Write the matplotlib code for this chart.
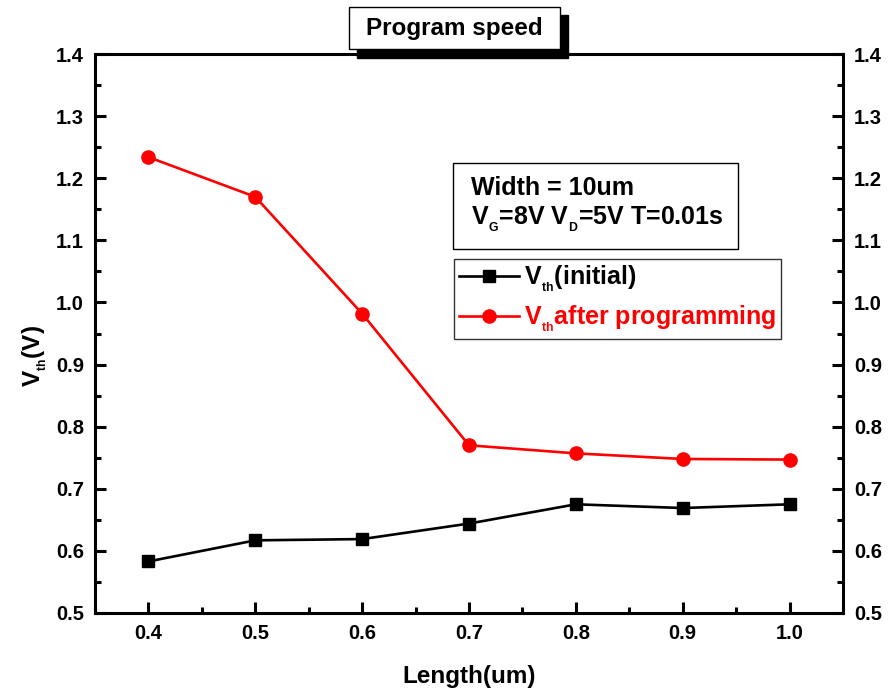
import matplotlib
matplotlib.use("Agg")
import matplotlib.pyplot as plt
import matplotlib.patches as ptc
from matplotlib.ticker import MultipleLocator, FormatStrFormatter

plt.rcParams['font.family'] = 'Liberation Sans'
plt.rcParams['font.weight'] = 'bold'
plt.rcParams['axes.labelweight'] = 'bold'
plt.rcParams['mathtext.fontset'] = 'custom'
plt.rcParams['mathtext.rm'] = 'Liberation Sans:bold'
plt.rcParams['mathtext.it'] = 'Liberation Sans:bold'
plt.rcParams['mathtext.bf'] = 'Liberation Sans:bold'

# data
length = [0.4, 0.5, 0.6, 0.7, 0.8, 0.9, 1.0]
vth_initial = [0.583, 0.617, 0.619, 0.644, 0.675, 0.669, 0.675]
vth_programmed = [1.234, 1.170, 0.982, 0.770, 0.757, 0.748, 0.747]

label_initial = r'V$_{_{\mathregular{th}}}$(initial)'
label_programmed = r'V$_{_{\mathregular{th}}}$after programming'
title_text = 'Program speed'
info_line1 = 'Width = 10um'
info_line2 = r'V$_{_{\mathregular{G}}}$=8V V$_{_{\mathregular{D}}}$=5V T=0.01s'

fig = plt.figure(figsize=(8.9, 6.95), dpi=100)
ax = fig.add_axes([95 / 890, 1 - 613 / 695, (843 - 95) / 890, (613 - 54) / 695])

ax.plot(length, vth_initial, color='black', lw=1.9, marker='s', ms=9,
        label=label_initial)
ax.plot(length, vth_programmed, color='red', lw=1.9, marker='o', ms=9.5,
        label=label_programmed)

ax.set_xlim(0.35, 1.05)
ax.set_ylim(0.5, 1.4)
ax.xaxis.set_major_locator(MultipleLocator(0.1))
ax.xaxis.set_minor_locator(MultipleLocator(0.05))
ax.yaxis.set_major_locator(MultipleLocator(0.1))
ax.yaxis.set_minor_locator(MultipleLocator(0.05))
ax.xaxis.set_major_formatter(FormatStrFormatter('%.1f'))
ax.yaxis.set_major_formatter(FormatStrFormatter('%.1f'))

for s in ax.spines.values():
    s.set_linewidth(2.2)
ax.tick_params(which='both', direction='in', width=2.2, left=True, right=True,
               bottom=True, top=False, labelright=True, labelsize=14.5, pad=8)
ax.tick_params(which='major', length=8)
ax.tick_params(which='minor', length=4)

ax.set_xlabel('Length(um)', fontsize=17.5, labelpad=16)
ax.set_ylabel(r'V$_{_{\mathregular{th}}}$(V)', fontsize=17.5)
ax.yaxis.set_label_coords(-0.062, 0.46)

leg = ax.legend(loc='upper left', bbox_to_anchor=((454 - 95) / 748, 1 - (259 - 54) / 559),
                fontsize=18, frameon=True, fancybox=False, handlelength=2.4,
                handletextpad=0.2, borderpad=0.2, labelspacing=0.4, borderaxespad=0)
leg.get_frame().set_edgecolor('black')
leg.get_frame().set_linewidth(1.0)
for txt, c in zip(leg.get_texts(), ['black', 'red']):
    txt.set_color(c)

# info box, positions in figure pixels
fig.text(471 / 890, 1 - 195 / 695, info_line1, fontsize=18, va='baseline', ha='left')
fig.text(471 / 890, 1 - 225 / 695, info_line2, fontsize=18, va='baseline', ha='left')
fig.patches.append(ptc.Rectangle((453 / 890, 1 - 249 / 695), (738 - 453) / 890, (249 - 163) / 695,
                                 transform=fig.transFigure, fill=False, edgecolor='black',
                                 lw=1.0))

# title box with shadow
fig.patches.append(ptc.Rectangle((357 / 890, 1 - 58 / 695), 211 / 890, 43 / 695,
                                 transform=fig.transFigure, facecolor='black',
                                 edgecolor='black', zorder=5))
fig.patches.append(ptc.Rectangle((349 / 890, 1 - 49 / 695), 211 / 890, 42 / 695,
                                 transform=fig.transFigure, facecolor='white',
                                 edgecolor='black', lw=1.0, zorder=6))
fig.text(454 / 890, 1 - 28 / 695, title_text, fontsize=17.5, ha='center', va='center',
         zorder=7)

fig.savefig('out.png', dpi=100)
